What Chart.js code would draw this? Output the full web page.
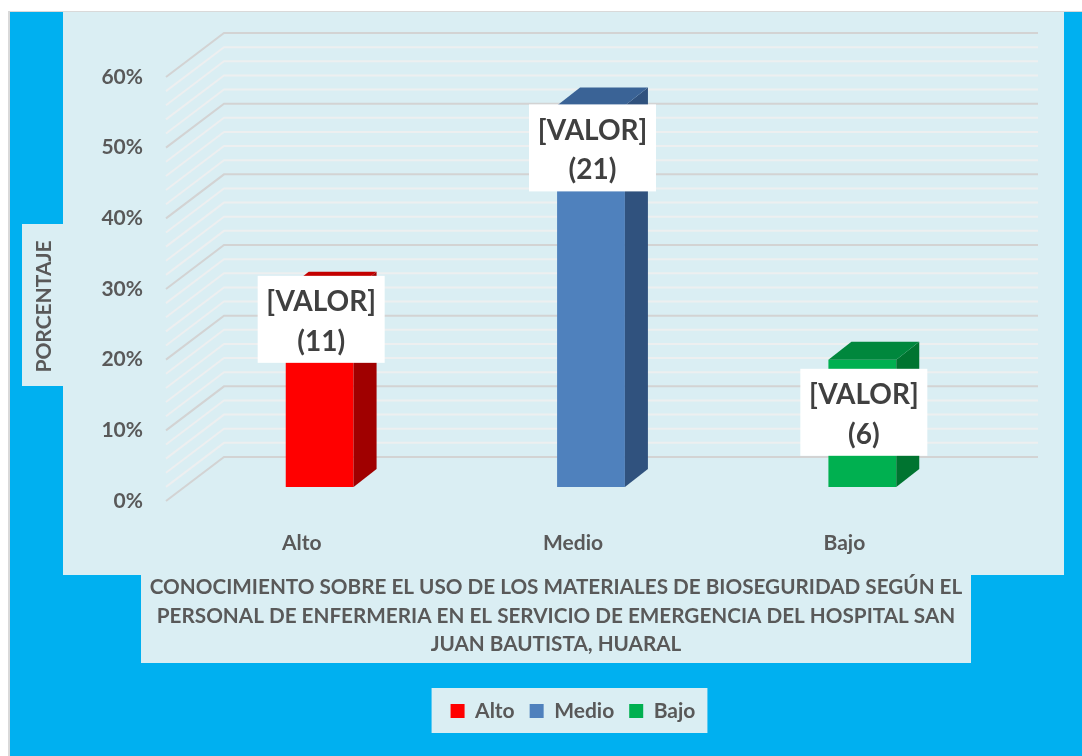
<!DOCTYPE html>
<html><head><meta charset="utf-8">
<script src="https://cdn.jsdelivr.net/npm/chart.js@4.4.1/dist/chart.umd.min.js"></script>
<style>html,body{margin:0;padding:0;background:#fff;} canvas{display:block;}</style>
</head><body>
<canvas id="c" width="1082" height="756"></canvas>
<script>
const categories = ['Alto', 'Medio', 'Bajo'];
const percentages = [27.9, 54.0, 18.0];
const counts = [11, 21, 6];
const yAxisTitle = 'PORCENTAJE';
const chartTitle = [
  'CONOCIMIENTO SOBRE EL USO DE LOS MATERIALES DE BIOSEGURIDAD SEGÚN EL',
  'PERSONAL DE ENFERMERIA EN EL SERVICIO DE EMERGENCIA DEL HOSPITAL SAN',
  'JUAN BAUTISTA, HUARAL'
];
const valuePlaceholder = '[VALOR]';

const frontColors = ['#FF0000', '#4F81BD', '#00B050'];
const topColors = ['#C40000', '#3A6396', '#00873D'];
const sideColors = ['#A00000', '#30527E', '#007430'];
const labelShifts = [29.5, 42.5, 52.5];

const TXT = '#595959';
Chart.defaults.font.family = "Lato, 'Liberation Sans', sans-serif";

const threeD = {
  id: 'threeD',
  beforeDraw(chart) {
    const ctx = chart.ctx;
    ctx.save();
    ctx.fillStyle = '#FFFFFF'; ctx.fillRect(0, 0, chart.width, chart.height);
    ctx.fillStyle = '#D9D9D9'; ctx.fillRect(8, 11, chart.width - 8, chart.height - 11);
    ctx.fillStyle = '#00B0F0'; ctx.fillRect(10, 12, chart.width - 10, chart.height - 12);
    ctx.fillStyle = '#DAEEF3';
    ctx.fillRect(63, 12, 1001, 563);
    ctx.fillRect(141, 575, 830, 88);
    ctx.fillRect(22, 224, 41, 162);
    const lg = chart.legend;
    if (lg && lg.legendHitBoxes && lg.legendHitBoxes.length) {
      const hb = lg.legendHitBoxes;
      const first = hb[0], last = hb[hb.length - 1];
      const x0 = first.left - 19, x1 = last.left + last.width + 12;
      ctx.fillRect(x0, lg.top + 2.5, x1 - x0, 45);
    }
    ctx.restore();
  },
  beforeDatasetsDraw(chart) {
    const {ctx, chartArea: a, scales: {y}} = chart;
    ctx.save();
    ctx.lineWidth = 2;
    [false, true].forEach(majorPass => {
      for (let v = y.min; v <= y.max + 0.001; v += 2) {
        const major = Math.abs(v % 10) < 0.001;
        if (major !== majorPass) continue;
        const py = y.getPixelForValue(v);
        ctx.strokeStyle = major ? '#D3D3D3' : '#EDEFF0';
        ctx.beginPath();
        ctx.moveTo(a.left, py);
        ctx.lineTo(a.left + 58, py - 44);
        ctx.lineTo(a.right + 58, py - 44);
        ctx.stroke();
      }
    });
    ctx.restore();
    ctx.save();
    ctx.translate(18, -14);
  },
  afterDatasetsDraw(chart) {
    const ctx = chart.ctx;
    const meta = chart.getDatasetMeta(0);
    const bars = meta.data.map(b => b.getProps(['x', 'y', 'base', 'width'], true));
    bars.forEach((b, i) => {
      const l = b.x - b.width / 2, r = b.x + b.width / 2;
      ctx.fillStyle = sideColors[i];
      ctx.beginPath();
      ctx.moveTo(r, b.y); ctx.lineTo(r + 23, b.y - 18); ctx.lineTo(r + 23, b.base - 18); ctx.lineTo(r, b.base);
      ctx.closePath(); ctx.fill();
      ctx.fillStyle = topColors[i];
      ctx.beginPath();
      ctx.moveTo(l, b.y); ctx.lineTo(l + 23, b.y - 18); ctx.lineTo(r + 23, b.y - 18); ctx.lineTo(r, b.y);
      ctx.closePath(); ctx.fill();
    });
    ctx.restore();
    ctx.save();
    bars.forEach((b, i) => {
      const cx = b.x + 18 + 1.5;
      const cy = b.y - 14 + labelShifts[i];
      ctx.fillStyle = '#FFFFFF';
      ctx.fillRect(cx - 63.5, cy - 43.5, 127, 87);
      ctx.fillStyle = '#404040';
      ctx.font = "bold 28px Lato, 'Liberation Sans', sans-serif";
      ctx.textAlign = 'center';
      ctx.textBaseline = 'middle';
      ctx.fillText(valuePlaceholder, cx, cy - 17);
      ctx.fillText('(' + counts[i] + ')', cx, cy + 22.5);
    });
    ctx.restore();
  },
  afterDraw(chart) {
    const ctx = chart.ctx;
    ctx.save();
    ctx.translate(44.5, 306.5);
    ctx.rotate(-Math.PI / 2);
    ctx.fillStyle = TXT;
    ctx.font = "bold 21px Lato, 'Liberation Sans', sans-serif";
    ctx.textAlign = 'center';
    ctx.textBaseline = 'middle';
    ctx.fillText(yAxisTitle, 0, 0);
    ctx.restore();
  }
};

new Chart(document.getElementById('c'), {
  type: 'bar',
  data: {
    labels: categories,
    datasets: [{
      label: 'Porcentaje',
      data: percentages,
      backgroundColor: frontColors,
      borderWidth: 0,
      barPercentage: 0.25,
      categoryPercentage: 1,
      clip: false
    }]
  },
  options: {
    responsive: false,
    animation: false,
    devicePixelRatio: 1,
    layout: { padding: { left: 100, right: 70, top: 77, bottom: 24.5 } },
    scales: {
      x: {
        grid: { display: false, drawTicks: false },
        border: { display: false },
        ticks: { color: TXT, font: { size: 21, weight: 'bold' }, padding: 30 },
        afterFit(s) { s.height = 72.25; }
      },
      y: {
        min: 0, max: 60,
        grid: { display: false, drawTicks: false },
        border: { display: false },
        ticks: { stepSize: 10, padding: 23, color: TXT, font: { size: 21, weight: 'bold' }, callback: v => v + '%' },
        afterFit(s) { s.width = 66; }
      },
      yDepth: {
        position: 'right',
        min: 0, max: 60,
        grid: { display: false, drawTicks: false },
        border: { display: false },
        ticks: { display: false },
        afterFit(s) { s.width = 32; }
      }
    },
    plugins: {
      legend: {
        position: 'bottom',
        fullSize: false,
        labels: {
          boxWidth: 14, boxHeight: 14, padding: 15, color: TXT,
          font: { size: 21, weight: 'bold' },
          generateLabels(chart) {
            const ds = chart.data.datasets[0];
            return chart.data.labels.map((l, i) => ({
              text: l, fillStyle: ds.backgroundColor[i], strokeStyle: ds.backgroundColor[i],
              lineWidth: 0, hidden: false, index: i, fontColor: TXT
            }));
          }
        }
      },
      title: {
        display: true, position: 'bottom', text: chartTitle, color: TXT,
        font: { size: 20.7, weight: 'bold', lineHeight: '28.5px' },
        padding: { top: 0, bottom: 26.75 }, weight: 500
      },
      tooltip: { enabled: false }
    }
  },
  plugins: [threeD]
});
</script>
</body></html>
